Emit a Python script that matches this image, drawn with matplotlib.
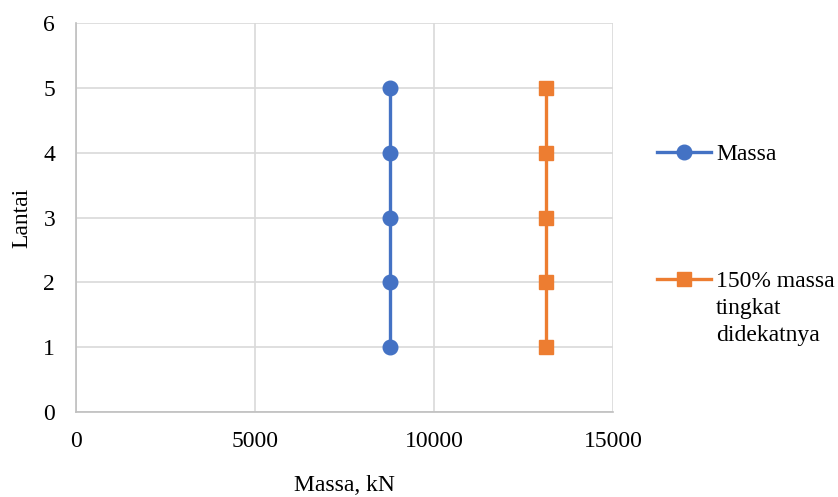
import matplotlib.pyplot as plt
from matplotlib.lines import Line2D

# floor masses (kN) per storey, and the 150% threshold of the adjacent storey
lantai = [1, 2, 3, 4, 5]
massa = [8760, 8760, 8760, 8760, 8760]
massa_150 = [13140, 13140, 13140, 13140, 13140]

label_massa = "Massa"
label_150 = ["150% massa", "tingkat", "didekatnya"]

BLUE = "#4472C4"
ORANGE = "#ED7D31"
GRID = "#D9D9D9"
FS = 17

plt.rcParams["font.family"] = ["Liberation Serif", "DejaVu Serif"]
plt.rcParams["font.size"] = FS

fig = plt.figure(figsize=(8.38, 4.97), dpi=100)
ax = fig.add_axes([0.0907, 0.171, 0.6408, 0.7827])

ax.plot(massa, lantai, color=BLUE, lw=2.4, marker="o", ms=10.5, zorder=3)
ax.plot(massa_150, lantai, color=ORANGE, lw=2.4, marker="s", ms=9.5, zorder=3)

ax.set_xlim(0, 15000)
ax.set_ylim(0, 6)
ax.set_xticks([0, 5000, 10000, 15000])
ax.set_yticks(range(0, 7))
ax.grid(True, color=GRID, lw=1.2)
ax.set_axisbelow(True)
ax.tick_params(length=0, labelsize=FS)
ax.tick_params(axis="x", pad=14)
ax.tick_params(axis="y", pad=15)
for side in ("top", "right"):
    ax.spines[side].set_visible(False)
for side in ("left", "bottom"):
    ax.spines[side].set_color("#BFBFBF")
    ax.spines[side].set_linewidth(1.2)

ax.set_xlabel("Massa, kN", fontsize=FS, labelpad=16)
ax.set_ylabel("Lantai", fontsize=FS, labelpad=8)

handles = [
    Line2D([], [], color=BLUE, lw=2.4, marker="o", ms=10.5),
    Line2D([], [], color=ORANGE, lw=2.4, marker="s", ms=9.5),
]
leg = fig.legend(handles, [label_massa, label_150[0]], loc="upper left",
                 bbox_to_anchor=(0.784, 0.711), frameon=False, fontsize=FS,
                 handlelength=2.3, handletextpad=0.2, labelspacing=4.48,
                 borderpad=0, borderaxespad=0)

# continuation lines of the second legend label, set under its first line
fig.canvas.draw()
bb = leg.get_texts()[1].get_window_extent()
x0, y0 = fig.transFigure.inverted().transform((bb.x0, bb.y0))
fig.text(x0, y0 - 0.012, "\n".join(label_150[1:]), fontsize=FS,
         ha="left", va="top", linespacing=1.32)

fig.savefig("out.png", dpi=100)
